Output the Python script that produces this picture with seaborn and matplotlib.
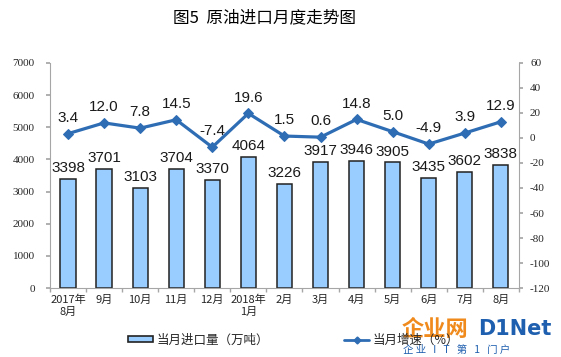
import numpy as np
import pandas as pd
import matplotlib
matplotlib.use("Agg")
import matplotlib.pyplot as plt
import seaborn as sns

# data
months = ["2017年\n8月", "9月", "10月", "11月", "12月", "2018年\n1月", "2月",
          "3月", "4月", "5月", "6月", "7月", "8月"]
imports = [3398, 3701, 3103, 3704, 3370, 4064, 3226, 3917, 3946, 3905, 3435, 3602, 3838]
growth = [3.4, 12.0, 7.8, 14.5, -7.4, 19.6, 1.5, 0.6, 14.8, 5.0, -4.9, 3.9, 12.9]

sns.set_theme(style="white")
plt.rcParams['font.family'] = ['Noto Sans CJK SC', 'DejaVu Sans']
plt.rcParams['axes.unicode_minus'] = False

df = pd.DataFrame({"month": months, "imports": imports, "growth": growth,
                   "idx": np.arange(len(months))})

fig = plt.figure(figsize=(5.61, 3.57), dpi=100)
ax = fig.add_axes([0.089, 0.193, 0.836, 0.631])

bar_color = "#99CCFF"
line_color = "#2E6DB4"
axis_gray = "#A6A6A6"

sns.barplot(data=df, x="month", y="imports", color=bar_color, edgecolor="#222222",
            linewidth=1.1, width=0.42, saturation=1, ax=ax)
for i, v in enumerate(imports):
    ax.text(i, v + 120, str(v), ha="center", va="bottom", fontsize=11,
            family=["Liberation Sans", "DejaVu Sans"], color="#1a1a1a")

ax.set_ylim(0, 7000)
ax.set_yticks(range(0, 7001, 1000))
ax.set_xlim(-0.5, len(months) - 0.5)
ax.set_xlabel("")
ax.set_ylabel("")
ax.tick_params(axis="y", labelsize=8, length=3, color=axis_gray, left=True, pad=8)
ax.tick_params(axis="x", labelsize=8, length=0, pad=5)
ax.set_xticks(np.arange(-0.5, len(months), 1), minor=True)
ax.tick_params(axis="x", which="minor", length=3, color=axis_gray, bottom=True)
for lab in ax.get_yticklabels():
    lab.set_family(["Liberation Serif", "DejaVu Serif"])

ax2 = ax.twinx()
sns.lineplot(data=df, x="idx", y="growth", color=line_color, marker="D",
             markersize=5, markeredgecolor=line_color, linewidth=2.3, ax=ax2)
for i, v in enumerate(growth):
    ax2.text(i, v + 7, f"{v:.1f}", ha="center", va="bottom", fontsize=11,
             family=["Liberation Sans", "DejaVu Sans"], color="#1a1a1a")
ax2.set_ylim(-120, 60)
ax2.set_yticks(range(-120, 61, 20))
ax2.set_ylabel("")
ax2.set_xlim(-0.5, len(months) - 0.5)
ax2.tick_params(axis="y", labelsize=8, length=3, color=axis_gray, right=True, pad=5)
for lab in ax2.get_yticklabels():
    lab.set_family(["Liberation Serif", "DejaVu Serif"])

for a in (ax, ax2):
    a.spines["top"].set_visible(False)
    for s in ("left", "right", "bottom"):
        a.spines[s].set_color(axis_gray)
        a.spines[s].set_linewidth(0.8)
ax.spines["right"].set_visible(False)
ax2.spines["left"].set_visible(False)
ax2.spines["bottom"].set_visible(False)

fig.text(0.472, 0.95, "图5  原油进口月度走势图", ha="center", va="center",
         fontsize=12, color="black")

# legend
bar_handle = matplotlib.patches.Patch(facecolor=bar_color, edgecolor="#222222", linewidth=1.2)
line_handle = matplotlib.lines.Line2D([], [], color=line_color, marker="D",
                                      markersize=3.5, linewidth=2)
fig.legend([bar_handle, line_handle], ["当月进口量（万吨）", "当月增速（%）"],
           loc="center left", bbox_to_anchor=(0.208, 0.048), ncol=2, frameon=False,
           fontsize=9, handlelength=2.0, handleheight=0.4, handletextpad=0.3,
           columnspacing=6.0)

# watermark
fig.text(0.716, 0.078, "企业网", ha="left", va="center", fontsize=16,
         color="#F08A1C", fontweight="bold")
fig.text(0.852, 0.078, "D1Net", ha="left", va="center", fontsize=15,
         color="#1F5FAF", fontweight="bold", family=["DejaVu Sans"])
fig.text(0.718, 0.02, "企 业   I   T   第   1   门 户", ha="left", va="center",
         fontsize=7.5, color="#1F5FAF")

fig.savefig("out.png", dpi=100)
